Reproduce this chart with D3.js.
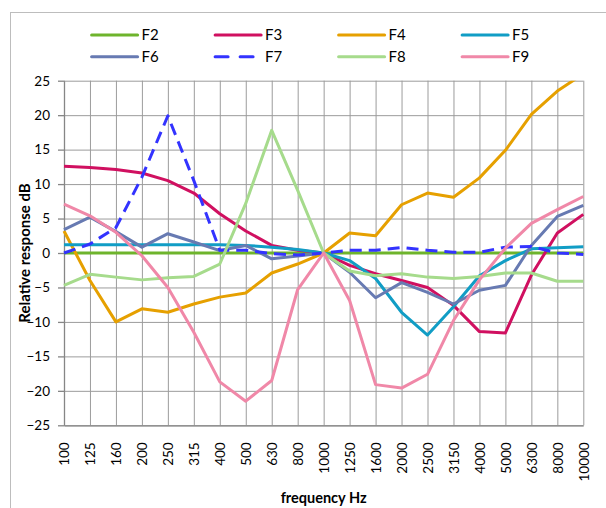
<!DOCTYPE html>
<html>
<head>
<meta charset="utf-8">
<script src="https://cdn.jsdelivr.net/npm/d3@7"></script>
<style>
  html, body { margin: 0; padding: 0; background: #fff; }
  svg { display: block; }
</style>
</head>
<body>
<div id="chart"></div>
<script>
// --- Data ---
const categories = ['100', '125', '160', '200', '250', '315', '400', '500', '630', '800', '1000',
  '1250', '1600', '2000', '2500', '3150', '4000', '5000', '6300', '8000', '10000'];
const seriesNames = ['F2', 'F3', 'F4', 'F5', 'F6', 'F7', 'F8', 'F9'];
const F2 = [0, 0, 0, 0, 0, 0, 0, 0, 0, 0, 0, 0, 0, 0, 0, 0, 0, 0, 0, 0, 0];
const F3 = [12.6, 12.4, 12.1, 11.6, 10.5, 8.7, 5.7, 3.2, 1.1, 0.4, 0, -1.8, -3.0, -4.0, -5.0, -7.6, -11.4, -11.6, -3.2, 2.9, 5.6];
const F4 = [3.2, -4.0, -10.0, -8.1, -8.6, -7.4, -6.4, -5.8, -2.9, -1.6, 0, 2.9, 2.5, 7.0, 8.7, 8.1, 10.9, 14.9, 20.1, 23.5, 26.0];
const F5 = [1.2, 1.2, 1.2, 1.2, 1.2, 1.2, 1.2, 1.1, 0.85, 0.5, 0, -1.1, -3.7, -8.6, -11.9, -7.8, -3.3, -1.1, 0.6, 0.75, 0.9];
const F6 = [3.4, 5.2, 3.1, 0.85, 2.8, 1.6, 0.35, 1.1, -0.85, -0.45, 0, -2.8, -6.5, -4.3, -5.7, -7.4, -5.4, -4.7, 1.1, 5.3, 6.9];
const F7 = [0, 1.3, 3.7, 11.0, 19.9, 10.5, 0.4, 0.4, -0.1, -0.3, 0, 0.4, 0.4, 0.8, 0.4, 0.1, 0.1, 0.85, 0.95, 0, -0.2];
const F8 = [-4.7, -3.1, -3.5, -3.9, -3.6, -3.4, -1.6, 7.2, 17.8, 9.1, 0, -2.6, -3.3, -3.0, -3.5, -3.7, -3.4, -2.9, -2.9, -4.1, -4.1];
const F9 = [7.1, 5.4, 3.0, -0.4, -5.0, -11.5, -18.7, -21.5, -18.5, -5.3, 0, -6.9, -19.1, -19.6, -17.6, -9.8, -3.9, 0.7, 4.3, 6.3, 8.2];
const yTicks = [-25, -20, -15, -10, -5, 0, 5, 10, 15, 20, 25];

(function () {
  'use strict';

  const COLORS = {
    F2: '#6eb42c',
    F3: '#d01060',
    F4: '#e6a000',
    F5: '#119dc5',
    F6: '#677ab2',
    F7: '#3333ff',
    F8: '#a6db8c',
    F9: '#f088a8',
    grid: '#9c9c9c',
    axis: '#868686',
    frame: '#bdbdbd',
    text: '#000',
  };
  const FONT = 'Lato, "Open Sans", sans-serif';
  const values = { F2, F3, F4, F5, F6, F7, F8, F9 };

  const W = 606, H = 508;
  const plot = { left: 64, right: 583.3, top: 80.7, bottom: 425.3 };

  const svg = d3.select('#chart').append('svg')
    .attr('width', W).attr('height', H);

  // Outer chart frame (runs off the right/bottom edge)
  svg.append('rect')
    .attr('x', 10.5).attr('y', 12.5)
    .attr('width', W + 10).attr('height', H + 10)
    .attr('fill', 'none')
    .attr('stroke', COLORS.frame)
    .attr('stroke-width', 1);

  const x = d3.scalePoint().domain(categories).range([plot.left, plot.right]);
  const y = d3.scaleLinear().domain([-25, 25]).range([plot.bottom, plot.top]);

  // Grid lines
  svg.append('g')
    .attr('transform', `translate(${plot.left},0)`)
    .call(d3.axisLeft(y).tickValues(yTicks).tickSize(-(plot.right - plot.left)).tickFormat(''))
    .call(g => g.select('.domain').remove())
    .selectAll('line').attr('stroke', COLORS.grid).attr('stroke-width', 1);

  svg.append('g')
    .attr('transform', `translate(0,${plot.top})`)
    .call(d3.axisBottom(x).tickSize(plot.bottom - plot.top).tickFormat(''))
    .call(g => g.select('.domain').remove())
    .selectAll('line').attr('stroke', COLORS.grid).attr('stroke-width', 1);

  // Y axis
  const yAxis = svg.append('g')
    .attr('transform', `translate(${plot.left},0)`)
    .call(d3.axisLeft(y).tickValues(yTicks).tickSize(6).tickSizeOuter(0).tickPadding(8));
  yAxis.select('.domain').attr('stroke', COLORS.axis).attr('stroke-width', 1.3);
  yAxis.selectAll('.tick line').attr('stroke', COLORS.axis).attr('stroke-width', 1.3);
  yAxis.selectAll('text')
    .attr('fill', COLORS.text)
    .attr('font-size', '13.5px')
    .attr('font-family', FONT);

  // X axis (labels rotated)
  const xAxis = svg.append('g')
    .attr('transform', `translate(0,${plot.bottom})`)
    .call(d3.axisBottom(x).tickSize(0).tickSizeOuter(0));
  xAxis.select('.domain').attr('stroke', COLORS.axis).attr('stroke-width', 1.3);
  xAxis.selectAll('text')
    .attr('fill', COLORS.text)
    .attr('font-size', '13.5px')
    .attr('font-family', FONT)
    .attr('text-anchor', 'end')
    .attr('transform', 'translate(0,17) rotate(-90)')
    .attr('x', 0).attr('y', 0)
    .attr('dy', '0.35em');

  // Clip for series
  svg.append('defs').append('clipPath')
    .attr('id', 'plot-clip')
    .append('rect')
    .attr('x', plot.left - 3).attr('y', plot.top)
    .attr('width', plot.right - plot.left + 6)
    .attr('height', plot.bottom - plot.top);

  const line = d3.line()
    .x((d, i) => x(categories[i]))
    .y(d => y(d));

  const lines = svg.append('g').attr('clip-path', 'url(#plot-clip)');
  seriesNames.forEach(name => {
    lines.append('path')
      .datum(values[name])
      .attr('fill', 'none')
      .attr('stroke', COLORS[name])
      .attr('stroke-width', 3)
      .attr('stroke-linejoin', 'round')
      .attr('stroke-dasharray', name === 'F7' ? '12,7' : null)
      .attr('d', line);
  });

  // Legend
  const legend = svg.append('g');
  seriesNames.forEach((name, i) => {
    const lx = 91.6 + (i % 4) * 123.5;
    const ly = i < 4 ? 35 : 56.7;
    legend.append('line')
      .attr('x1', lx).attr('x2', lx + 46)
      .attr('y1', ly).attr('y2', ly)
      .attr('stroke', COLORS[name])
      .attr('stroke-width', 3)
      .attr('stroke-linecap', 'round')
      .attr('stroke-dasharray', name === 'F7' ? '13,12' : null);
    legend.append('text')
      .attr('x', lx + 50).attr('y', ly)
      .attr('dy', '0.36em')
      .attr('fill', COLORS.text)
      .attr('font-size', '15px')
      .attr('font-family', FONT)
      .text(name);
  });

  // Axis titles
  svg.append('text')
    .attr('transform', `translate(25,${(plot.top + plot.bottom) / 2}) rotate(-90)`)
    .attr('text-anchor', 'middle')
    .attr('dy', '0.35em')
    .attr('fill', COLORS.text)
    .attr('font-size', '15px')
    .attr('font-weight', '700')
    .attr('font-family', FONT)
    .text('Relative response dB');

  svg.append('text')
    .attr('x', (plot.left + plot.right) / 2).attr('y', 503)
    .attr('text-anchor', 'middle')
    .attr('fill', COLORS.text)
    .attr('font-size', '14.5px')
    .attr('font-weight', '700')
    .attr('font-family', FONT)
    .text('frequency Hz');
})();
</script>
</body>
</html>
